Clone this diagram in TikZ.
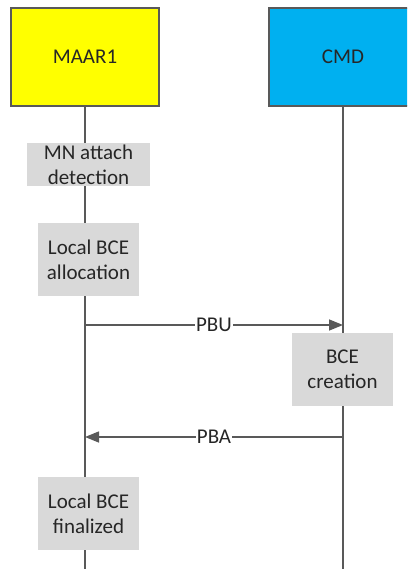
\documentclass[tikz,border=0pt]{standalone}
\usepackage{fontspec}
\setmainfont{Carlito}
\usetikzlibrary{arrows.meta}
\definecolor{maaryellow}{HTML}{FFFF00}
\definecolor{cmdblue}{HTML}{00B0F0}
\definecolor{stepgray}{HTML}{D9D9D9}
\definecolor{linegray}{HTML}{595959}
\definecolor{textdark}{HTML}{262626}
\begin{document}
\begin{tikzpicture}[x=1pt,y=-1pt,
  every node/.style={font=\fontsize{21}{25}\selectfont, text=textdark},
  entity/.style={draw=linegray, line width=1.5pt, minimum width=148pt, minimum height=98pt, inner sep=0pt},
  stepbox/.style={fill=stepgray, align=center, inner sep=0pt},
  lifeline/.style={draw=linegray, line width=1.5pt},
  msg/.style={lifeline, -{Triangle[length=14pt,width=11pt]}},
  msglabel/.style={fill=white, inner sep=1pt}]
  \clip (0,0) rectangle (407,569);
  % entities
  \node[entity, fill=maaryellow] (maar) at (85,57) {MAAR1};
  \node[entity, fill=cmdblue] (cmd) at (343,57) {CMD};
  \coordinate (maarend) at (85,569);
  \coordinate (cmdend) at (343,569);
  \draw[lifeline] (maar.south) -- (maarend);
  \draw[lifeline] (cmd.south) -- (cmdend);
  % local steps
  \node[stepbox, minimum width=123pt, minimum height=43pt] (detect) at (88.5,164.5) {MN attach\\detection};
  \node[stepbox, minimum width=101pt, minimum height=73pt] (alloc) at (88.5,259.5) {Local BCE\\allocation};
  \node[stepbox, minimum width=101pt, minimum height=73pt] (create) at (342.5,369.5) {BCE\\creation};
  \node[stepbox, minimum width=101pt, minimum height=73pt] (final) at (88.5,513.5) {Local BCE\\finalized};
  % messages
  \coordinate (pbuA) at (85,325);
  \coordinate (pbuB) at (343,325);
  \coordinate (pbaA) at (343,437);
  \coordinate (pbaB) at (85,437);
  \draw[msg] (pbuA) -- node[msglabel] {PBU} (pbuB);
  \draw[msg] (pbaA) -- node[msglabel] {PBA} (pbaB);
\end{tikzpicture}
\end{document}
